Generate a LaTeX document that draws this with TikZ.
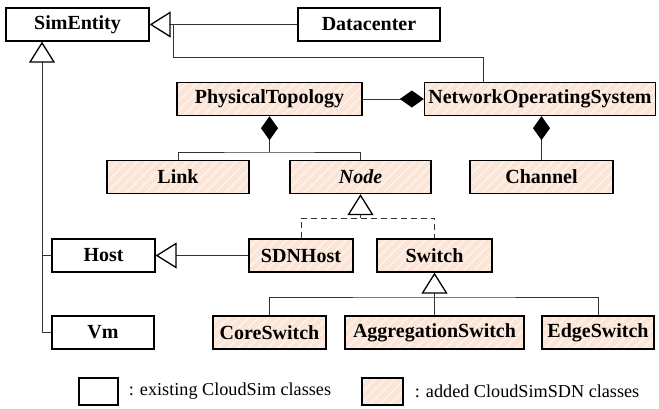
\documentclass[tikz,border=0pt]{standalone}
\usepackage{fontspec}
\setmainfont{Liberation Serif}
\usetikzlibrary{arrows.meta,patterns.meta,positioning}
\definecolor{sdnfill}{RGB}{251,229,214}
\definecolor{sdnstripe}{RGB}{254,244,237}
\begin{document}
\begin{tikzpicture}[x=1pt, y=-1pt,
        cls/.style={draw, line width=1.3pt, inner sep=0pt, minimum height=33pt, font=\fontsize{20}{24}\selectfont\bfseries},
        oldcls/.style={cls, fill=white},
        newcls/.style={cls, preaction={fill=sdnfill}, pattern={Lines[angle=45, distance=7pt, line width=1.4pt]}, pattern color=sdnstripe},
        keytext/.style={inner sep=0pt, font=\fontsize{18.2}{22}\selectfont},
        conn/.style={line width=1pt, draw=black!80},
        inherit/.style={conn, -{Triangle[open, length=21pt, width=26pt, line width=1.3pt, color=black]}},
        compose/.style={conn, -{Diamond[length=24pt, width=17pt, color=black]}}]
        \useasboundingbox (0,0) rectangle (659,408);

        % Class boxes
        \node[oldcls, minimum width=143pt] (simentity) at (77.5,24.5) {SimEntity};
        \node[oldcls, minimum width=142pt] (datacenter) at (369,24.5) {Datacenter};
        \node[newcls, minimum width=185pt] (phystopo) at (269.5,99) {PhysicalTopology};
        \node[newcls, minimum width=231pt] (nos) at (540,99) {NetworkOperatingSystem};
        \node[newcls, minimum width=142pt] (link) at (178,177) {Link};
        \node[newcls, minimum width=141pt] (toponode) at (360.5,177) {\textit{Node}};
        \node[newcls, minimum width=143pt] (channel) at (541.5,177) {Channel};
        \node[oldcls, minimum width=103pt] (host) at (103.5,255.5) {Host};
        \node[newcls, minimum width=104pt] (sdnhost) at (301,255.5) {SDNHost};
        \node[newcls, minimum width=115pt] (switch) at (434.5,255.5) {Switch};
        \node[oldcls, minimum width=102pt] (vm) at (103,332.5) {Vm};
        \node[newcls, minimum width=113pt] (coreswitch) at (269.5,332.5) {CoreSwitch};
        \node[newcls, minimum width=179pt] (aggswitch) at (434.5,332.5) {AggregationSwitch};
        \node[newcls, minimum width=112pt] (edgeswitch) at (598,332.5) {EdgeSwitch};

        % Legend
        \node[oldcls, minimum width=39pt, minimum height=27pt] (keyold) at (98.5,391.5) {};
        \node[keytext, right=10pt of keyold] (keyoldtext) {: existing CloudSim classes};
        \node[newcls, minimum width=41pt, minimum height=27pt] (keynew) at (382.5,391.5) {};
        \node[keytext, right=11pt of keynew] (keynewtext) {: added CloudSimSDN classes};

        % Relations
        \coordinate (dcjoin) at (173,24.5);
        \coordinate (ptfork) at (269.5,152);
        \coordinate (nodefork) at (360.5,218);
        \coordinate (swfork) at (434.5,297);
        \coordinate (simtip) at ([xshift=-35.5pt]simentity.south);

        \draw[inherit] (datacenter.west) -- (simentity.east);
        \draw[conn] ([xshift=-57pt]nos.north) -- ++(0,-24) -| (dcjoin);
        \draw[compose] (phystopo.east) -- (nos.west);
        \draw[compose] (ptfork) -- (phystopo.south);
        \draw[conn] (link.north) |- (ptfork) -| (toponode.north);
        \draw[compose] (channel.north) -- (channel.north |- nos.south);
        \draw[inherit] (nodefork) -- (toponode.south);
        \draw[conn, dash pattern=on 6pt off 4pt] (sdnhost.north) |- (nodefork) -| (switch.north);
        \draw[inherit] (sdnhost.west) -- (host.east);
        \draw[inherit] (vm.west) -| (simtip);
        \draw[conn] (host.west) -- (host.west -| simtip);
        \draw[inherit] (swfork) -- (switch.south);
        \draw[conn] (coreswitch.north) |- (swfork) -| (edgeswitch.north);
        \draw[conn] (aggswitch.north) -- (swfork);
    \end{tikzpicture}
\end{document}
